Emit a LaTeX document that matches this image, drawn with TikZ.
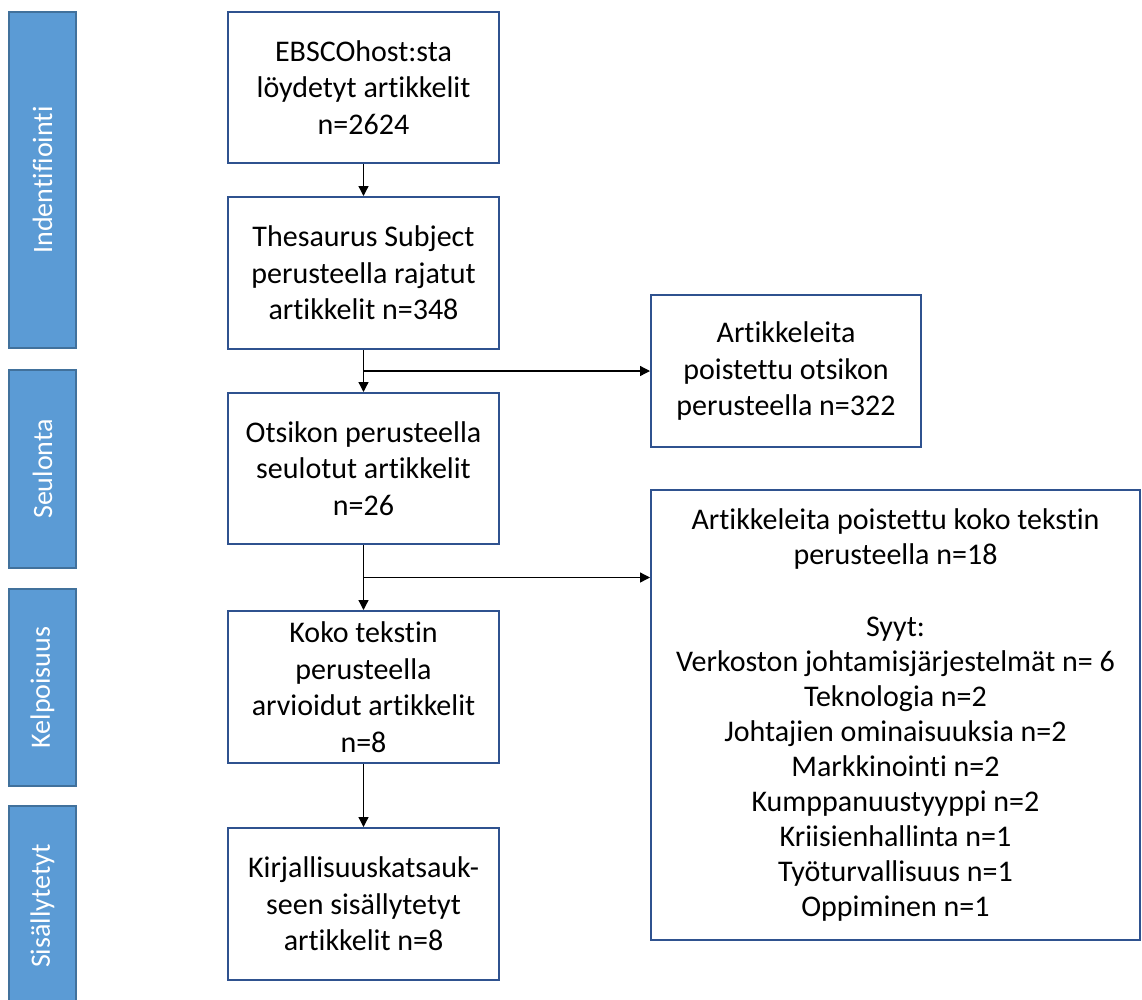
\documentclass[tikz,border=0pt]{standalone}
\usepackage{fontspec}
\setmainfont{Carlito}[Ligatures={NoCommon}]
\usetikzlibrary{arrows.meta,calc}
\definecolor{boxline}{RGB}{47,82,143}
\definecolor{barfill}{RGB}{91,155,213}
\definecolor{barline}{RGB}{65,113,156}
\begin{document}
\begin{tikzpicture}[x=1pt,y=-1pt,
  flowbox/.style={draw=boxline,line width=2pt,fill=white,align=center,inner sep=0pt,
    font=\fontsize{30}{36.5}\selectfont},
  stagebar/.style={draw=barline,line width=2pt,fill=barfill,text=white,inner sep=0pt,
    minimum height=67pt,rotate=90,font=\fontsize{28}{32}\selectfont},
  arr/.style={draw=black,line width=1.3pt,-{Triangle[width=10pt,length=10pt]}}]
\useasboundingbox (0,0) rectangle (1142,999);
% stage bars
\node[stagebar,minimum width=336pt] (s1) at (42.5,180) {Indentifiointi};
\node[stagebar,minimum width=198pt] (s2) at (42.5,469) {Seulonta};
\node[stagebar,minimum width=197pt] (s3) at (42.5,687.5) {Kelpoisuus};
\node[stagebar,minimum width=200pt] (s4) at (42.5,906) {Sisällytetyt};
% main column
\node[flowbox,minimum width=271pt,minimum height=151pt] (b1) at (363.5,87.5)
  {EBSCOhost:sta\\löydetyt artikkelit\\n=2624};
\node[flowbox,minimum width=271pt,minimum height=152pt] (b2) at (363.5,273)
  {Thesaurus Subject\\perusteella rajatut\\artikkelit n=348};
\node[flowbox,minimum width=271pt,minimum height=151pt] (b3) at (363.5,468.5)
  {Otsikon perusteella\\seulotut artikkelit\\n=26};
\node[flowbox,minimum width=271pt,minimum height=152pt] (b4) at (363.5,687)
  {Koko tekstin\\perusteella\\arvioidut artikkelit\\n=8};
\node[flowbox,minimum width=271pt,minimum height=152pt] (b5) at (363.5,904)
  {Kirjallisuuskatsauk-\\seen sisällytetyt\\artikkelit n=8};
% right boxes
\node[flowbox,minimum width=270pt,minimum height=152pt] (r1) at (786,371)
  {Artikkeleita\\poistettu otsikon\\perusteella n=322};
\node[flowbox,minimum width=489pt,minimum height=450pt,
  font=\fontsize{30}{35}\selectfont] (r2) at (895.5,715)
  {Artikkeleita poistettu koko tekstin\\perusteella n=18\\[37pt]Syyt:\\Verkoston johtamisjärjestelmät n= 6\\Teknologia n=2\\Johtajien ominaisuuksia n=2\\Markkinointi n=2\\Kumppanuustyyppi n=2\\Kriisienhallinta n=1\\Työturvallisuus n=1\\Oppiminen n=1};
% connectors
\coordinate (j1) at ($(b2.south)!0.5!(b3.north)$);
\coordinate (j2) at ($(b3.south)!0.5!(b4.north)$);
\draw[arr] (b1.south) -- (b2.north);
\draw[arr] (b2.south) -- (b3.north);
\draw[arr] (j1) -- (j1 -| r1.west);
\draw[arr] (b3.south) -- (b4.north);
\draw[arr] (j2) -- (j2 -| r2.west);
\draw[arr] (b4.south) -- (b5.north);
\end{tikzpicture}
\end{document}
